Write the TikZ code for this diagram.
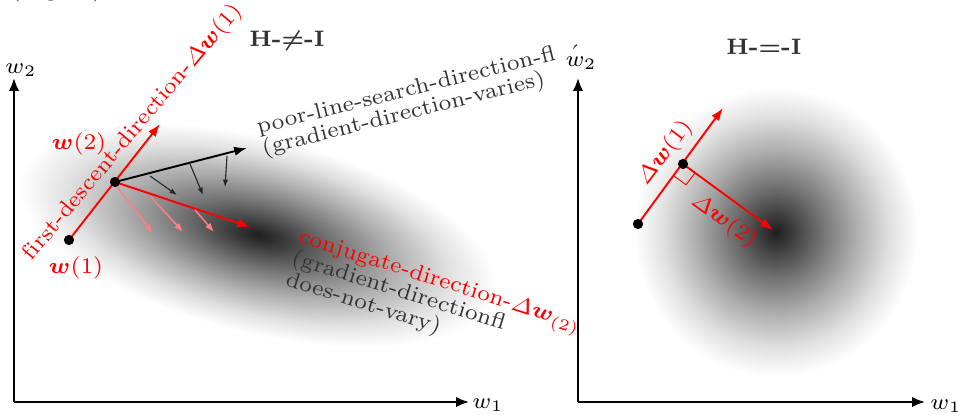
\documentclass[tikz,border=0pt]{standalone}
\usepackage{amsmath,bm}
\usetikzlibrary{arrows.meta}
\pgfdeclareradialshading{blob}{\pgfpoint{0bp}{0bp}}{color(0bp)=(black!88); color(3bp)=(black!76); color(8bp)=(black!55); color(14bp)=(black!32); color(20bp)=(black!12); color(25bp)=(white); color(50bp)=(white)}
\tikzset{
  lbl/.style={font=\fontsize{7}{8.4}\selectfont, inner sep=0pt},
  gtxt/.style={lbl, text=black!80},
  axisline/.style={line width=0.6pt, -{Latex[length=4pt,width=3.2pt]}},
  redarr/.style={red, line width=0.6pt, -{Latex[length=4pt,width=2.9pt]}},
  blkarr/.style={black, line width=0.6pt, -{Latex[length=4pt,width=2.9pt]}},
  smallarr/.style={black!85, line width=0.35pt, -{Latex[length=2.3pt,width=1.7pt]}},
  pinkarr/.style={red!50, line width=0.45pt, -{Latex[length=2.9pt,width=2.1pt]}},
  dot/.style={circle, fill=black, inner sep=0pt, minimum size=3.1pt},
}
\begin{document}
\begin{tikzpicture}[x=0.3125pt,y=-0.3125pt]
\useasboundingbox (0,0) rectangle (958,415);
\clip (0,0) rectangle (958,415);

% blobs
\begin{scope}[transform canvas={shift={(258,235)}, rotate=-14}]
  \shade[shading=blob] (0,0) ellipse [x radius=245, y radius=98];
\end{scope}
\begin{scope}[transform canvas={shift={(776,232)}}]
  \shade[shading=blob] (0,0) ellipse [x radius=142, y radius=145];
\end{scope}

% caption fragment
\node[gtxt, anchor=base west] (cap) at (10,-3) {(Figure)};

% left axes
\coordinate (O1) at (14,402);
\coordinate (Y1) at (14,78);
\coordinate (X1) at (469,402);
\draw[axisline] (O1) -- (Y1);
\draw[axisline] (O1) -- (X1);
\node[lbl] (w2a) at (21,70) {$w_2$};
\node[lbl] (w1a) at (488,405) {$w_1$};

% right axes
\coordinate (O2) at (578,402);
\coordinate (Y2) at (578,78);
\coordinate (X2) at (925,402);

% left diagram
\node[dot] (p1) at (69,240) {};
\node[dot] (p2) at (115,182) {};
\coordinate (t1) at (160,124);
\coordinate (tb) at (247,148);
\coordinate (tr) at (250,227);
\draw[redarr] (p1.center) -- (t1);
\draw[blkarr] (p2.center) -- (tb);
\draw[redarr] (p2.center) -- (tr);
\coordinate (s1a) at (150,176); \coordinate (s1b) at (177,195);
\coordinate (s2a) at (190,164); \coordinate (s2b) at (203,195);
\coordinate (s3a) at (227,156); \coordinate (s3b) at (225,187);
\draw[smallarr] (s1a) -- (s1b);
\draw[smallarr] (s2a) -- (s2b);
\draw[smallarr] (s3a) -- (s3b);
\coordinate (q1a) at (117,187); \coordinate (q1b) at (153,233);
\coordinate (q2a) at (151,197); \coordinate (q2b) at (183,232);
\coordinate (q3a) at (195,210); \coordinate (q3b) at (214,232);
\draw[pinkarr] (q1a) -- (q1b);
\draw[pinkarr] (q2a) -- (q2b);
\draw[pinkarr] (q3a) -- (q3b);
\node[dot] at (p1) {};
\node[dot] at (p2) {};

\node[lbl, text=black!80, font=\fontsize{7}{8.4}\selectfont\bfseries] (t1title) at (287,41) {H-$\bm{\neq}$-I};
\node[lbl, red] (lw2) at (79,144) {$\bm{w}(2)$};
\node[lbl, red] (lw1) at (76,268) {$\bm{w}(1)$};
\node[lbl, red, rotate=50, anchor=base] (fd) at (137,136) {f\kern0pt irst-descent-direction-$\varDelta\bm{w}(1)$};

\begin{scope}
\clip (0,-10) rectangle (576,415);
\node[gtxt, rotate=14, anchor=base west] (pl1) at (258,134) {poor-line-search-direction-fl\hspace{0.8em}$\gamma$};
\node[gtxt, rotate=14, anchor=base west] (pl2) at (263.3,155.3) {(gradient-direction-varies)};
\node[lbl, red, rotate=-17.5, anchor=base west] (cj1) at (297,242) {conjugate-direction-$\varDelta\bm{w}_{(2)}\gamma$};
\node[gtxt, rotate=-17.5, anchor=base west] (cj2) at (290,263) {(gradient-directionfl};
\node[gtxt, rotate=-17.5, anchor=base west] (cj3) at (284,285) {does-not-vary)};
\end{scope}

% right diagram
\draw[axisline] (O2) -- (Y2);
\draw[axisline] (O2) -- (X2);
\node[lbl] (w2b) at (581,63) {$w_2$};
\node[lbl] (w1b) at (946,406) {$w_1$};
\node[lbl, text=black!80, font=\fontsize{7}{8.4}\selectfont\bfseries] (t2title) at (764,47) {H-$\bm{=}$-I};

\node[dot] (a1) at (638,224) {};
\node[dot] (a2) at (683,164) {};
\coordinate (u1) at (723,108);
\coordinate (u2) at (773,230);
\draw[redarr] (a1.center) -- (u1);
\draw[redarr] (a2.center) -- (u2);
\draw[red, line width=0.3pt] (673.9,175.9) -- (686,184.8) -- (695.1,172.9);
\node[dot] at (a1) {};
\node[dot] at (a2) {};
\node[lbl, red, rotate=52.7] (dw1) at (665,153) {$\varDelta\bm{w}(1)$};
\node[lbl, red, rotate=-35.8] (dw2) at (724,221) {$\varDelta\bm{w}(2)$};
\end{tikzpicture}
\end{document}
